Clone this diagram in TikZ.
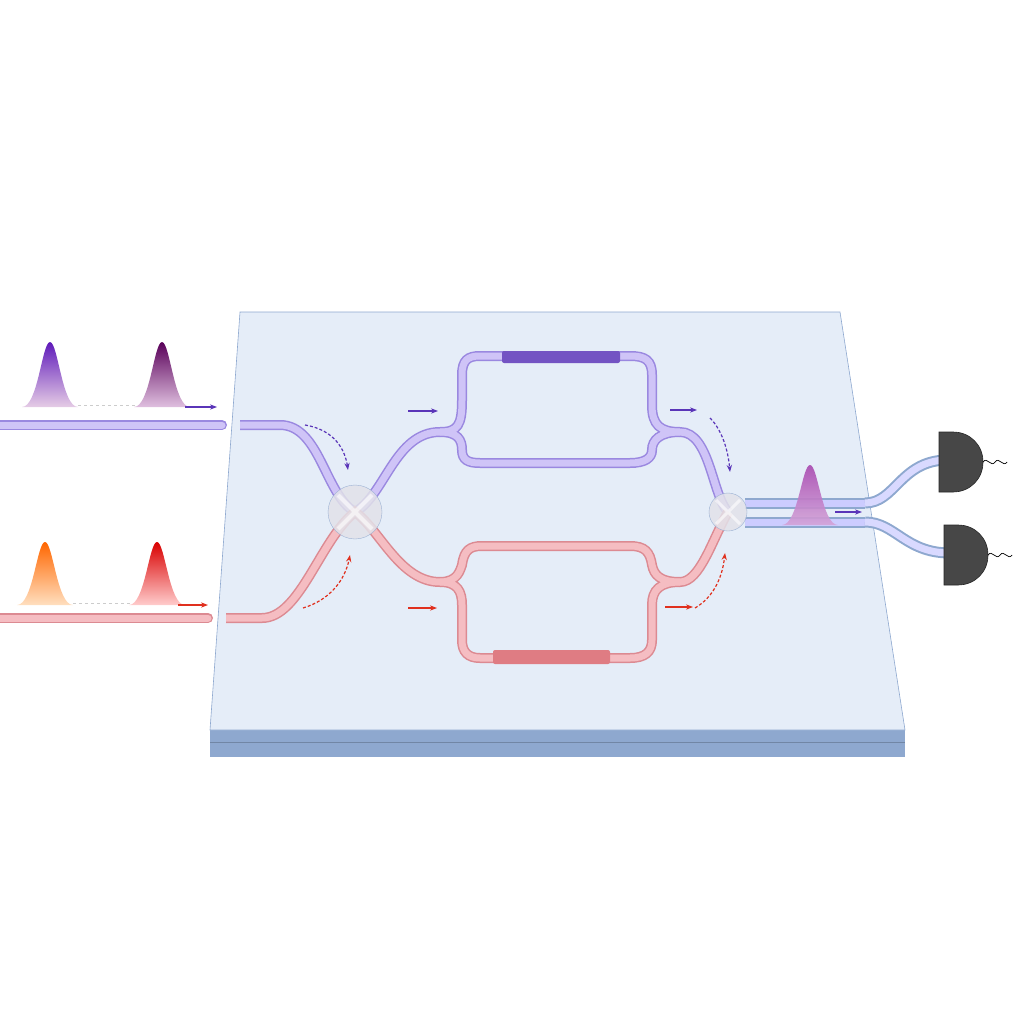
\documentclass[tikz,border=0pt]{standalone}
\usetikzlibrary{arrows.meta}
\begin{document}
\begin{tikzpicture}[x=1pt,y=-1pt,
  arr/.style={-{Stealth[length=7pt]},line width=1.4pt},
  darr/.style={-{Stealth[length=7pt]},line width=1.2pt,dash pattern=on 3pt off 2pt}]
\useasboundingbox (0,0) rectangle (1024,1024);
\definecolor{pv}{HTML}{9A88E0}\definecolor{pvl}{HTML}{CFC4F7}
\definecolor{rd}{HTML}{DC8A92}\definecolor{rdl}{HTML}{F5BDC2}
\definecolor{chip}{HTML}{E5EDF8}\definecolor{side}{HTML}{8EA8CF}
\definecolor{ap}{HTML}{5A35B8}\definecolor{ar}{HTML}{E0301E}
\definecolor{mg}{HTML}{A848B0}
% chip
\fill[side] (210,730) rectangle (905,757);
\draw[side!80!black,line width=0.5pt] (210,742)--(905,742);
\fill[chip,draw=side,line width=0.6pt] (240,312)--(840,312)--(905,730)--(210,730)--cycle;
\foreach \w/\c in {10/pv,7/pvl}{
 \draw[line width=\w pt,\c,line cap=round] (0,425)--(222,425);
 \draw[line width=\w pt,\c] (240,425)--(280,425) .. controls (320,425) and (325,495) .. (355,512) .. controls (385,495) and (395,432) .. (440,432) .. controls (458,432) and (462,425) .. (462,400) -- (462,375) .. controls (462,360) and (468,356) .. (480,356) -- (630,356) .. controls (645,356) and (652,360) .. (652,375) -- (652,405) .. controls (652,425) and (660,432) .. (680,432) .. controls (710,432) and (712,495) .. (728,512);
 \draw[line width=\w pt,\c] (440,432) .. controls (458,432) and (462,440) .. (462,450) .. controls (462,460) and (468,463) .. (480,463) -- (630,463) .. controls (645,463) and (652,458) .. (652,450) .. controls (652,440) and (660,432) .. (680,432);
}
\foreach \w/\c in {10/rd,7/rdl}{
 \draw[line width=\w pt,\c,line cap=round] (0,618)--(208,618);
 \draw[line width=\w pt,\c] (226,618)--(262,618) .. controls (300,618) and (320,540) .. (355,512) .. controls (380,530) and (400,582) .. (440,582) .. controls (458,582) and (460,570) .. (462,565) .. controls (464,550) and (470,546) .. (482,546) -- (630,546) .. controls (645,546) and (650,552) .. (652,565) .. controls (654,575) and (660,582) .. (680,582) .. controls (700,582) and (712,540) .. (728,512);
 \draw[line width=\w pt,\c] (440,582) .. controls (458,582) and (462,592) .. (462,605) -- (462,640) .. controls (462,652) and (468,658) .. (480,658) -- (630,658) .. controls (645,658) and (652,652) .. (652,640) -- (652,605) .. controls (652,590) and (660,582) .. (680,582);
}
% heaters
\fill[ap!85,rounded corners=2pt] (502,351) rectangle (620,363);
\fill[rd!90!red,rounded corners=2pt] (493,650) rectangle (610,664);
% outputs
\foreach \y in {503,522}{
 \draw[line width=11pt,side] (745,\y)--(865,\y);
 \draw[line width=7pt,white!80!blue] (745,\y)--(865,\y);}
\foreach \w/\c in {11/side,7/white!85!blue}{
 \draw[line width=\w pt,\c] (865,503) .. controls (895,503) and (900,462) .. (945,460);
 \draw[line width=\w pt,\c] (865,522) .. controls (895,522) and (905,553) .. (950,553);}
% splitters
\node[circle,minimum size=54pt,fill=blue!12!gray!20,draw=side,opacity=0.85] (bs1) at (355,512) {};
\draw[white,line width=4pt,opacity=0.6] (338,495)--(372,529) (338,529)--(372,495);
\node[circle,minimum size=38pt,fill=blue!12!gray!20,draw=side,opacity=0.85] (bs2) at (728,512) {};
\draw[white,line width=3pt,opacity=0.6] (716,500)--(740,524) (716,524)--(740,500);
% detectors
\foreach \n/\x/\y in {d1/945/462,d2/950/555}{
 \fill[black!72,draw=black!85,line width=0.6pt] (\x-6,\y-30) -- (\x+8,\y-30) .. controls (\x+25,\y-30) and (\x+38,\y-17) .. (\x+38,\y) .. controls (\x+38,\y+17) and (\x+25,\y+30) .. (\x+8,\y+30) -- (\x-6,\y+30) -- cycle;
 \draw[black,line width=0.7pt] (\x+38,\y) .. controls (\x+42,\y-6) and (\x+46,\y+6) .. (\x+50,\y) .. controls (\x+54,\y-6) and (\x+58,\y+6) .. (\x+62,\y);
}
% pulses
\newcommand\pulse[5]{\shade[top color=#4,bottom color=#5] (#1-28,#2) .. controls (#1-12,#2) and (#1-8,#2-#3) .. (#1,#2-#3) .. controls (#1+8,#2-#3) and (#1+12,#2) .. (#1+28,#2) -- cycle;}
\pulse{50}{407}{65}{violet!60!blue!90}{violet!20}
\pulse{162}{407}{65}{violet!70!black}{violet!25}
\pulse{45}{605}{63}{orange!80!red}{orange!25}
\pulse{157}{605}{63}{red!85!black}{red!20}
\shade[top color=mg,bottom color=mg!50,opacity=0.9] (782,525) .. controls (798,525) and (802,465) .. (810,465) .. controls (818,465) and (822,525) .. (838,525) -- cycle;
\draw[gray!40,dashed] (78,405)--(135,405) (73,603)--(130,603);
% arrows
\draw[arr,ap] (185,407)--(217,407);
\draw[arr,ap] (408,411)--(438,411);
\draw[arr,ap] (670,410)--(697,410);
\draw[arr,ap] (835,512)--(862,512);
\draw[arr,ar] (178,605)--(208,605);
\draw[arr,ar] (408,608)--(437,608);
\draw[arr,ar] (665,607)--(693,607);
\draw[darr,ap] (305,425) .. controls (335,430) and (345,450) .. (348,470);
\draw[darr,ap] (710,418) .. controls (722,430) and (728,450) .. (730,472);
\draw[darr,ar] (303,608) .. controls (330,600) and (345,580) .. (350,555);
\draw[darr,ar] (695,608) .. controls (712,598) and (722,580) .. (725,553);
\end{tikzpicture}
\end{document}
